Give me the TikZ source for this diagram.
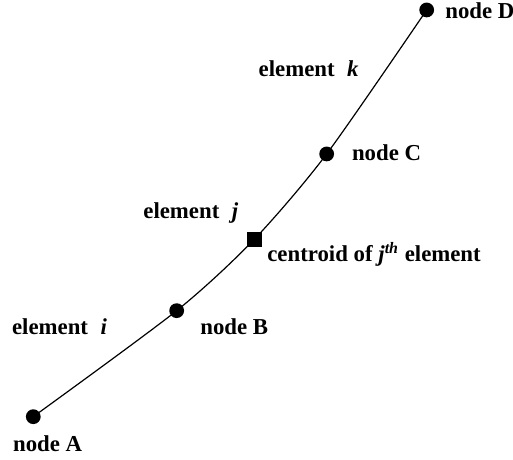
\documentclass[tikz,border=0pt]{standalone}
\usepackage{fontspec}
\setmainfont{Liberation Serif}
\tikzset{lbl/.style={inner sep=0pt,anchor=base west}}
\begin{document}
\begin{tikzpicture}[line join = round, line cap=round,font=\bfseries\fontsize{11.4}{13}\selectfont]
	
	\useasboundingbox (0,0) rectangle (9.016,8.084);
	\coordinate (A) at (0.585,0.761);
	\coordinate (B) at (3.105,2.624);
	\coordinate (G) at (4.469,3.878);
	\coordinate (C) at (5.741,5.378);
	\coordinate (D) at (7.499,7.909);
	
	\draw[line width=0.6pt] plot[smooth,tension=0.45] coordinates {(A) (B) (G) (C) (D)};
	\foreach	\p	in	{A,B,C,D}
	\fill (\p) circle(0.13)
	;
	\fill (G) ++(-0.135,-0.135) rectangle ++(0.27,0.27);
	
	\node[lbl] (nA) at (0.223,0.146) {node A};
	\node[lbl] (nB) at (3.515,2.197) {node B};
	\node[lbl] (nC) at (6.18,5.27) {node C};
	\node[lbl] (nD) at (7.82,7.76) {node D};
	\node[lbl] (ei) at (0.206,2.197) {element\hspace{0.3em} \textit{i}};
	\node[lbl] (ej) at (2.513,4.248) {element\hspace{0.3em} \textit{j}};
	\node[lbl] (ek) at (4.54,6.736) {element\hspace{0.3em} \textit{k}};
	\node[lbl] (cg) at (4.692,3.485) {centroid of \textit{j}\textsuperscript{\textit{th}} element};
\end{tikzpicture}
\end{document}
